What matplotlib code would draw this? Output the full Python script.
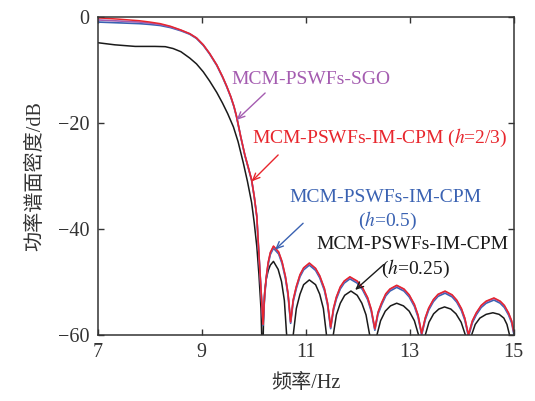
import matplotlib
matplotlib.use("Agg")
import matplotlib.pyplot as plt

plt.rcParams['font.family'] = ['Liberation Serif', 'Noto Sans CJK SC', 'DejaVu Sans']
plt.rcParams['mathtext.fontset'] = 'stix'

# ---- data ----
freq_a = [7.0, 7.4, 7.8, 8.0, 8.2, 8.4, 8.6, 8.77, 8.9, 9.03, 9.15, 9.29, 9.4, 9.48, 9.56, 9.62, 9.67,
          9.75, 9.83, 9.9, 9.96, 10.01, 10.06, 10.09, 10.12, 10.15, 10.18,
          10.21, 10.24, 10.28, 10.32, 10.38, 10.48, 10.545, 10.61, 10.66, 10.71,
          10.76, 10.82, 10.89, 10.96, 11.07, 11.19, 11.27, 11.36, 11.42, 11.48,
          11.535, 11.59, 11.665, 11.74, 11.85, 11.99, 12.09, 12.19, 12.26, 12.33,
          12.39, 12.46, 12.54, 12.62, 12.75, 12.89, 12.99, 13.09, 13.16, 13.23,
          13.30, 13.365, 13.455, 13.545, 13.68, 13.815, 13.905, 13.995, 14.06, 14.13,
          14.205, 14.28, 14.375, 14.47, 14.62, 14.74, 14.82, 14.90, 14.96, 15.0]
psd_h23 = [-0.1, -0.35, -0.65, -0.9, -1.2, -1.7, -2.4, -3.1, -3.9, -5.2, -6.8, -9.0, -11.2, -13.0, -15.0, -16.8, -18.7,
           -22.5, -26.0, -28.5, -30.7, -33.8, -37.6, -43.0, -48.0, -53.0, -58.0,
           -52.4, -49.1, -46.2, -44.4, -43.2, -44.3, -46.1, -48.9, -52.1, -57.5,
           -53.3, -50.8, -48.6, -47.3, -46.4, -47.4, -48.8, -51.2, -53.9, -58.5,
           -54.9, -52.8, -50.9, -49.8, -49.0, -49.8, -51.0, -52.9, -55.1, -58.8,
           -55.7, -53.9, -52.2, -51.3, -50.6, -51.3, -52.4, -54.2, -56.2, -59.7,
           -56.7, -54.9, -53.3, -52.3, -51.7, -52.4, -53.4, -55.0, -56.8, -60.0,
           -57.3, -55.8, -54.4, -53.6, -53.0, -53.6, -54.4, -55.8, -57.3, -59.3]
psd_sgo = [-0.5, -0.7, -0.9, -1.1, -1.35, -1.8, -2.45, -3.1, -3.9, -5.2, -6.8, -9.0, -11.2, -13.0, -15.0, -16.8, -18.7,
           -22.5, -26.0, -28.5, -30.7, -33.8, -37.6, -43.0, -48.0, -53.0, -58.0,
           -52.5, -49.2, -46.3, -44.5, -43.3, -44.4, -46.2, -49.0, -52.2, -57.6,
           -53.4, -50.9, -48.7, -47.4, -46.5, -47.5, -48.9, -51.3, -54.0, -58.6,
           -55.0, -52.9, -51.0, -49.9, -49.1, -49.9, -51.1, -53.0, -55.2, -58.9,
           -55.8, -54.0, -52.3, -51.4, -50.7, -51.4, -52.5, -54.3, -56.3, -59.8,
           -56.8, -55.0, -53.4, -52.4, -51.8, -52.5, -53.5, -55.1, -56.9, -60.0,
           -57.4, -55.9, -54.5, -53.7, -53.1, -53.7, -54.5, -55.9, -57.4, -59.4]
psd_h05 = [-0.9, -1.05, -1.2, -1.35, -1.55, -1.95, -2.55, -3.2, -4.0, -5.3, -6.9, -9.1, -11.3, -13.1, -15.1, -16.9, -18.8,
           -22.6, -26.1, -28.6, -30.8, -33.9, -37.7, -43.1, -48.1, -53.1, -58.2,
           -52.8, -49.5, -46.6, -44.8, -43.6, -44.7, -46.5, -49.3, -52.5, -57.8,
           -53.7, -51.2, -49.0, -47.7, -46.8, -47.8, -49.2, -51.6, -54.3, -58.8,
           -55.3, -53.2, -51.3, -50.2, -49.4, -50.2, -51.4, -53.3, -55.5, -59.1,
           -56.1, -54.3, -52.6, -51.7, -51.0, -51.7, -52.8, -54.6, -56.6, -60.0,
           -57.1, -55.3, -53.7, -52.7, -52.1, -52.8, -53.8, -55.4, -57.2, -60.3,
           -57.7, -56.2, -54.8, -54.0, -53.4, -54.0, -54.8, -56.2, -57.7, -59.7]

freq_b = [7.0, 7.33, 7.72, 8.1, 8.3, 8.45, 8.6, 8.77, 8.9, 9.03, 9.15, 9.29, 9.4, 9.5, 9.61, 9.7,
          9.8, 9.88, 9.96, 10.01, 10.06, 10.1, 10.14, 10.17,
          10.19, 10.21, 10.24, 10.28, 10.32, 10.38, 10.47, 10.535, 10.59, 10.63, 10.69,
          10.76, 10.82, 10.89, 10.96, 11.07, 11.19, 11.27, 11.34, 11.40, 11.46,
          11.53, 11.59, 11.665, 11.75, 11.87, 11.99, 12.08, 12.16, 12.23, 12.30,
          12.37, 12.44, 12.53, 12.63, 12.75, 12.88, 12.99, 13.09, 13.17, 13.23,
          13.30, 13.37, 13.46, 13.56, 13.67, 13.79, 13.89, 13.99, 14.07, 14.13,
          14.19, 14.26, 14.35, 14.47, 14.60, 14.72, 14.81, 14.87, 14.92, 14.98, 15.0]
psd_h025 = [-4.8, -5.2, -5.5, -5.5, -5.55, -5.9, -6.5, -7.7, -8.8, -10.3, -12.0, -14.2, -16.2, -18.2, -20.7, -23.5,
            -27.5, -31.0, -35.0, -38.8, -43.3, -48.5, -55.0, -66.0,
            -57.0, -52.0, -49.5, -47.8, -46.8, -46.1, -47.6, -49.9, -53.5, -59.5, -66.0,
            -60.0, -55.0, -52.3, -50.5, -49.6, -50.5, -52.3, -55.0, -60.0, -66.0,
            -60.0, -56.2, -54.0, -52.5, -51.7, -52.5, -54.0, -56.2, -60.0, -66.0,
            -60.0, -57.3, -55.5, -54.5, -54.0, -54.5, -55.5, -57.3, -60.0, -66.0,
            -60.0, -57.6, -56.0, -55.1, -54.7, -55.1, -56.0, -57.6, -60.0, -66.0,
            -60.0, -58.0, -56.8, -56.1, -55.8, -56.1, -56.8, -58.0, -60.0, -66.0, -68.0]

x_ticks = [7, 9, 11, 13, 15]
y_ticks = [-60, -40, -20, 0]

RED = '#e8262d'
BLUE = '#3a62b2'
PURPLE = '#a45cb0'
BLACK = '#1a1a1a'

fig = plt.figure(figsize=(5.35, 4.01), dpi=100)
ax = fig.add_axes([0.1826, 0.1646, 0.9602 - 0.1826, 0.9569 - 0.1646])

ax.plot(freq_b, psd_h025, color=BLACK, lw=1.1)
ax.plot(freq_a, psd_h05, color=BLUE, lw=1.2)
ax.plot(freq_a, psd_sgo, color=PURPLE, lw=1.2)
ax.plot(freq_a, psd_h23, color=RED, lw=1.1)

ax.set_xlim(7, 15)
ax.set_ylim(-60, 0)
ax.set_xticks(x_ticks)
ax.set_yticks(y_ticks)
ax.set_xticklabels([str(v) for v in x_ticks])
ax.set_yticklabels([str(v).replace('-', '\u2212') for v in y_ticks])
ax.tick_params(direction='in', top=True, right=True, length=4, width=1,
               labelsize=14.5, colors='#333333', pad=6)
for s in ax.spines.values():
    s.set_color('#333333')
    s.set_linewidth(1.1)

ax.set_xlabel('频率/Hz', fontsize=14.5, color='#333333', labelpad=8)
ax.set_ylabel('功率谱面密度/dB', fontsize=14.5, color='#333333', labelpad=9)

fs = 14
arrow_kw = dict(arrowstyle='->,head_length=0.5,head_width=0.22', lw=1.0, shrinkA=0, shrinkB=0)

ax.text(9.58, -11.8, 'MCM-PSWFs-SGO', color=PURPLE, fontsize=fs, va='center', ha='left')
ax.annotate('', xy=(9.67, -19.4), xytext=(10.22, -14.3), arrowprops=dict(color=PURPLE, **arrow_kw))

ax.text(9.97, -22.8, 'MCM-PSWFs-IM-CPM ($h$=2/3)', color=RED, fontsize=fs, va='center', ha='left')
ax.annotate('', xy=(9.96, -31.0), xytext=(10.47, -26.0), arrowprops=dict(color=RED, **arrow_kw))

ax.text(12.53, -34.1, 'MCM-PSWFs-IM-CPM', color=BLUE, fontsize=fs, va='center', ha='center')
ax.text(12.57, -38.5, '($h$=0.5)', color=BLUE, fontsize=fs, va='center', ha='center')
ax.annotate('', xy=(10.41, -43.9), xytext=(10.95, -38.9), arrowprops=dict(color=BLUE, **arrow_kw))

ax.text(13.05, -43.0, 'MCM-PSWFs-IM-CPM', color=BLACK, fontsize=fs, va='center', ha='center')
ax.text(13.12, -47.6, '($h$=0.25)', color=BLACK, fontsize=fs, va='center', ha='center')
ax.annotate('', xy=(11.95, -51.5), xytext=(12.5, -46.7), arrowprops=dict(color=BLACK, **arrow_kw))

fig.savefig('out.png', dpi=100)
